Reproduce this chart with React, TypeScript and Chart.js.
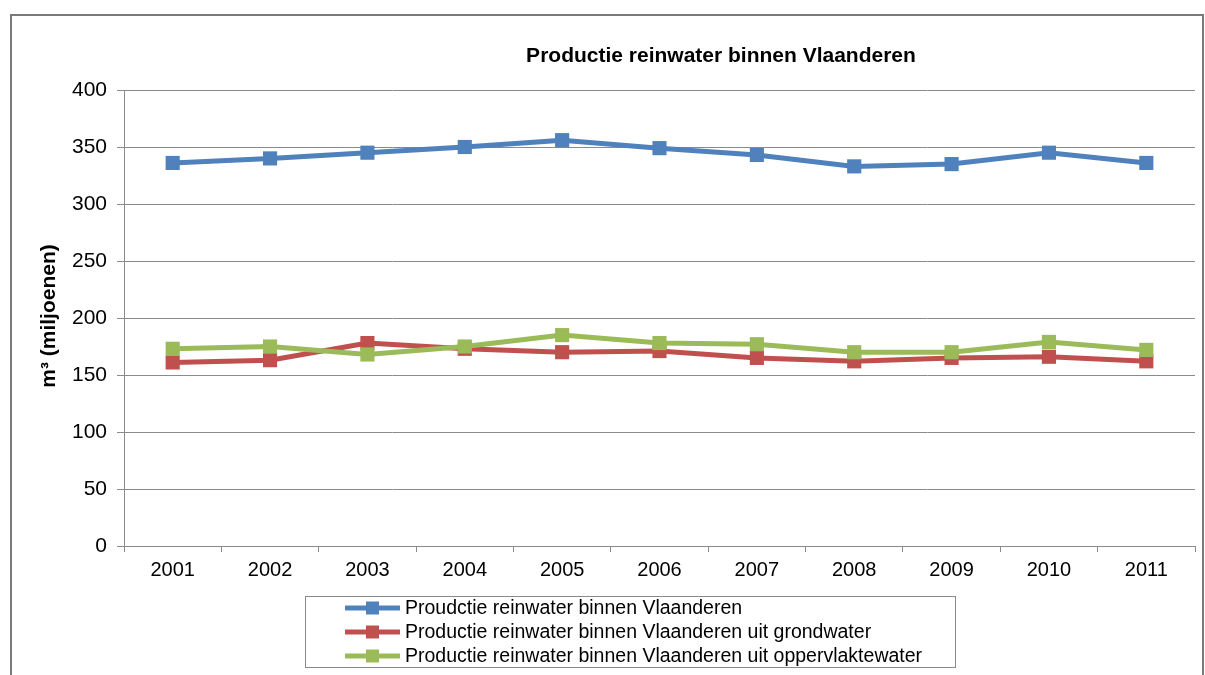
import React, { useEffect, useRef } from "react";
import { Chart, registerables } from "chart.js";

Chart.register(...registerables);

const years = ["2001", "2002", "2003", "2004", "2005", "2006", "2007", "2008", "2009", "2010", "2011"];
const totaal = [336, 340, 345, 350, 356, 349, 343, 333, 335, 345, 336];
const grondwater = [161, 163, 178, 173, 170, 171, 165, 162, 165, 166, 162];
const oppervlaktewater = [173, 175, 168, 175, 185, 178, 177, 170, 170, 179, 172];
const seriesNames = [
  "Proudctie reinwater binnen Vlaanderen",
  "Productie reinwater binnen Vlaanderen uit grondwater",
  "Productie reinwater binnen Vlaanderen uit oppervlaktewater",
];
const titleText = "Productie reinwater binnen Vlaanderen";
const yTitleText = "m³ (miljoenen)";

const colors = ["#4F81BD", "#C0504D", "#9BBB59"];
const FONT = "'Liberation Sans', Arial, sans-serif";

const decorPlugin = {
  id: "decor",
  beforeDraw(chart: any) {
    const ctx = chart.ctx;
    ctx.save();
    ctx.fillStyle = "#ffffff";
    ctx.fillRect(0, 0, chart.width, chart.height);
    // outer frame
    ctx.strokeStyle = "#7a7a7a";
    ctx.lineWidth = 2;
    ctx.beginPath();
    ctx.moveTo(11, 680);
    ctx.lineTo(11, 15);
    ctx.lineTo(1203, 15);
    ctx.lineTo(1203, 680);
    ctx.stroke();
    ctx.restore();
  },
  afterDraw(chart: any) {
    const ctx = chart.ctx;
    ctx.save();
    // title
    ctx.fillStyle = "#000";
    ctx.font = `bold 21px ${FONT}`;
    ctx.textAlign = "center";
    ctx.textBaseline = "alphabetic";
    ctx.fillText(titleText, 721, 62);
    // y title
    ctx.save();
    ctx.translate(49, 316);
    ctx.rotate(-Math.PI / 2);
    ctx.font = `bold 21px ${FONT}`;
    ctx.textBaseline = "middle";
    ctx.fillText(yTitleText, 0, 0);
    ctx.restore();
    // legend box
    ctx.strokeStyle = "#8a8a8a";
    ctx.lineWidth = 1;
    ctx.strokeRect(305.5, 596.5, 650, 71);
    const rows = [608, 632, 656];
    chart.data.datasets.forEach((ds: any, i: number) => {
      const y = rows[i];
      ctx.strokeStyle = ds.borderColor;
      ctx.lineWidth = 5;
      ctx.beginPath();
      ctx.moveTo(345, y);
      ctx.lineTo(400, y);
      ctx.stroke();
      ctx.fillStyle = ds.borderColor;
      ctx.fillRect(366, y - 6.5, 13, 13);
      ctx.fillStyle = "#000";
      ctx.font = `19.5px ${FONT}`;
      ctx.textAlign = "left";
      ctx.textBaseline = "middle";
      ctx.fillText(seriesNames[i], 405, y + 1);
    });
    ctx.restore();
  },
};

export default function App() {
  const canvasRef = useRef<HTMLCanvasElement | null>(null);

  useEffect(() => {
    if (!canvasRef.current) return;
    const mk = (label: string, data: number[], color: string, order: number) => ({
      label,
      data,
      borderColor: color,
      backgroundColor: color,
      borderWidth: 5,
      pointStyle: "rect" as const,
      pointRadius: 10,
      pointHoverRadius: 10,
      pointBorderWidth: 0,
      tension: 0,
      order,
    });
    const chart = new Chart(canvasRef.current, {
      type: "line",
      data: {
        labels: years,
        datasets: [
          mk(seriesNames[0], totaal, colors[0], 2),
          mk(seriesNames[1], grondwater, colors[1], 1),
          mk(seriesNames[2], oppervlaktewater, colors[2], 0),
        ],
      },
      options: {
        responsive: false,
        animation: false,
        layout: { padding: { left: 0, right: 10, top: 90, bottom: 89 } },
        plugins: {
          legend: { display: false },
          title: { display: false },
          tooltip: { enabled: false },
        },
        scales: {
          x: {
            type: "category",
            offset: true,
            grid: {
              offset: true,
              drawOnChartArea: false,
              drawTicks: true,
              tickLength: 6,
              color: "#8a8a8a",
            },
            border: { color: "#8a8a8a", width: 1 },
            ticks: {
              color: "#000",
              font: { family: FONT, size: 20 },
              padding: 6,
              maxRotation: 0,
            },
            afterFit: (s: any) => {
              s.height = 40;
            },
          },
          y: {
            min: 0,
            max: 400,
            ticks: {
              stepSize: 50,
              color: "#000",
              font: { family: FONT, size: 21 },
              padding: 10,
            },
            grid: {
              color: "#8a8a8a",
              tickLength: 7,
              drawTicks: true,
            },
            border: { color: "#8a8a8a", width: 1 },
            afterFit: (s: any) => {
              s.width = 124;
            },
          },
        },
      },
      plugins: [decorPlugin],
    });
    return () => chart.destroy();
  }, []);

  return (
    <div style={{ position: "fixed", left: 0, top: 0, width: 1205, height: 675, background: "#fff" }}>
      <canvas ref={canvasRef} width={1205} height={675} style={{ width: 1205, height: 675 }} />
    </div>
  );
}
